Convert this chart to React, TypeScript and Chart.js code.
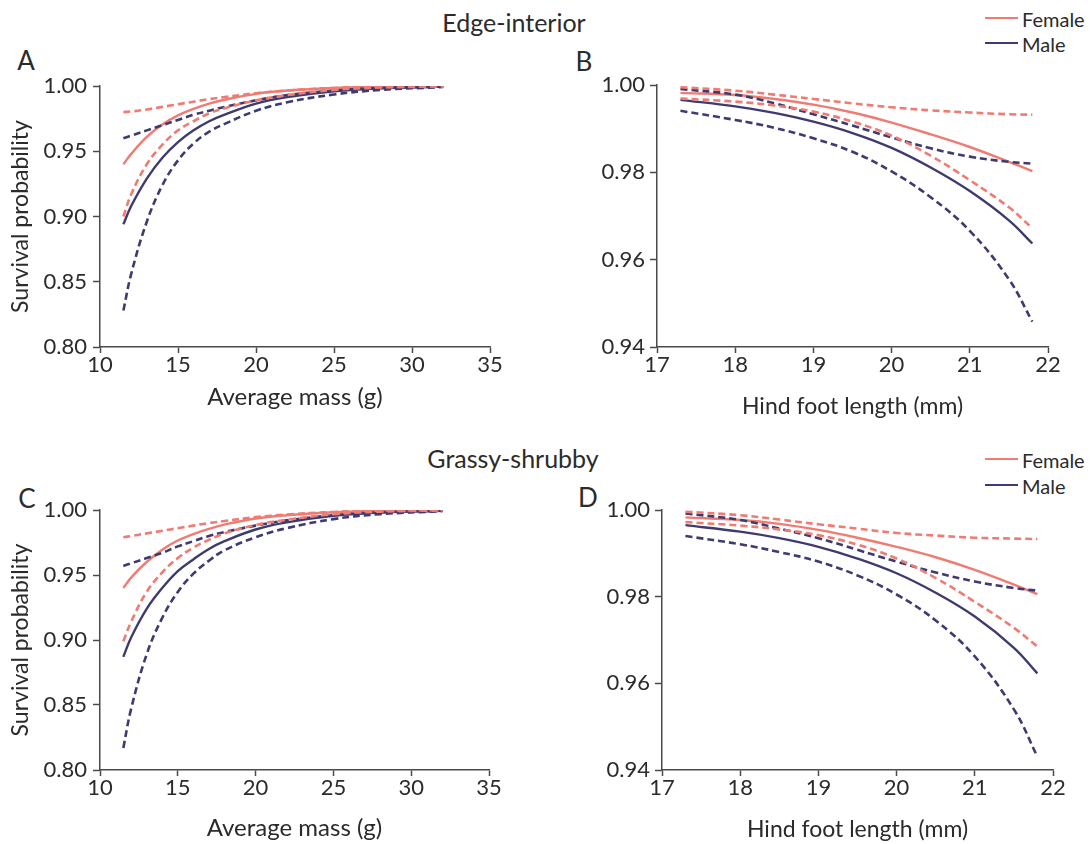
import React, { useEffect, useRef } from "react";
import { Chart, registerables } from "chart.js";
Chart.register(...registerables);

const FEMALE = "#EF7B73";
const MALE = "#3D3B6F";
const AXIS = "#4a4a4a";
const TEXT = "#2b2b2b";
const FONT = "Lato, 'Open Sans', sans-serif";

// Average mass (g) sample positions
const massX = [11.5, 12, 13, 14, 15, 16, 17, 18, 20, 22, 25, 28, 32];
// Hind foot length (mm) sample positions
const footX = [17.3, 18, 18.5, 19, 19.5, 20, 20.5, 21, 21.5, 21.8];

// Panel A: Edge-interior, average mass
const femaleFitA = [0.94, 0.948, 0.961, 0.9705, 0.9775, 0.9825, 0.9865, 0.9895, 0.994, 0.9965, 0.9985, 0.9994, 0.9998];
const femaleUpA = [0.98, 0.9805, 0.982, 0.984, 0.986, 0.988, 0.99, 0.9915, 0.9945, 0.9965, 0.9985, 0.9995, 0.9999];
const femaleLoA = [0.9, 0.917, 0.94, 0.955, 0.966, 0.973, 0.979, 0.983, 0.989, 0.993, 0.997, 0.9988, 0.9997];
const maleFitA = [0.894, 0.908, 0.929, 0.945, 0.957, 0.966, 0.973, 0.978, 0.9865, 0.9915, 0.996, 0.9982, 0.9995];
const maleUpA = [0.96, 0.962, 0.966, 0.97, 0.974, 0.978, 0.981, 0.984, 0.989, 0.993, 0.9965, 0.9985, 0.9996];
const maleLoA = [0.828, 0.856, 0.896, 0.924, 0.943, 0.956, 0.965, 0.971, 0.981, 0.9875, 0.9935, 0.997, 0.9992];

// Panel B: Edge-interior, hind foot length
const femaleFitB = [0.9982, 0.9977, 0.9968, 0.9955, 0.9937, 0.9914, 0.9887, 0.9858, 0.9824, 0.9803];
const femaleUpB = [0.9995, 0.9987, 0.9978, 0.9968, 0.9958, 0.9949, 0.9942, 0.9937, 0.9933, 0.9932];
const femaleLoB = [0.9969, 0.9962, 0.9953, 0.9939, 0.9916, 0.9884, 0.9838, 0.9782, 0.972, 0.9672];
const maleFitB = [0.9966, 0.9951, 0.9936, 0.9916, 0.989, 0.9856, 0.9811, 0.9757, 0.969, 0.9637];
const maleUpB = [0.9991, 0.9978, 0.9958, 0.9933, 0.9907, 0.988, 0.9855, 0.9836, 0.9824, 0.982];
const maleLoB = [0.9941, 0.992, 0.9902, 0.9878, 0.9847, 0.9802, 0.9743, 0.9666, 0.9555, 0.9458];

// Panel C: Grassy-shrubby, average mass
const femaleFitC = [0.94, 0.948, 0.96, 0.9695, 0.9765, 0.9815, 0.9855, 0.9888, 0.9935, 0.996, 0.9983, 0.9993, 0.9998];
const femaleUpC = [0.979, 0.98, 0.982, 0.984, 0.986, 0.988, 0.99, 0.9915, 0.9945, 0.9965, 0.9985, 0.9995, 0.9999];
const femaleLoC = [0.899, 0.914, 0.937, 0.952, 0.963, 0.971, 0.977, 0.982, 0.9885, 0.9925, 0.9968, 0.9987, 0.9997];
const maleFitC = [0.887, 0.902, 0.924, 0.94, 0.953, 0.962, 0.97, 0.976, 0.985, 0.9905, 0.9955, 0.998, 0.9994];
const maleUpC = [0.957, 0.959, 0.963, 0.967, 0.972, 0.976, 0.98, 0.983, 0.988, 0.992, 0.996, 0.9983, 0.9995];
const maleLoC = [0.817, 0.847, 0.889, 0.917, 0.937, 0.951, 0.961, 0.969, 0.979, 0.986, 0.993, 0.9968, 0.9991];

// Panel D: Grassy-shrubby, hind foot length
const femaleFitD = [0.9983, 0.9977, 0.9968, 0.9954, 0.9936, 0.9915, 0.9891, 0.9862, 0.9828, 0.9806];
const femaleUpD = [0.9996, 0.9988, 0.9978, 0.9967, 0.9957, 0.9947, 0.9941, 0.9936, 0.9934, 0.9933];
const femaleLoD = [0.9972, 0.9964, 0.9955, 0.9942, 0.992, 0.9888, 0.9843, 0.9788, 0.9728, 0.9685];
const maleFitD = [0.9965, 0.995, 0.9935, 0.9915, 0.9888, 0.9854, 0.9809, 0.9754, 0.9682, 0.9623];
const maleUpD = [0.9992, 0.9977, 0.9957, 0.9935, 0.9908, 0.9881, 0.9856, 0.9835, 0.982, 0.9814];
const maleLoD = [0.994, 0.9921, 0.9903, 0.9881, 0.9849, 0.9805, 0.9745, 0.9662, 0.954, 0.9431];

const massTicks = { min: 10, max: 35, step: 5 };
const massProbTicks = { min: 0.8, max: 1.0, step: 0.05 };
const footTicks = { min: 17, max: 22, step: 1 };
const footProbTicks = { min: 0.94, max: 1.0, step: 0.02 };

type PanelProps = {
  left: number; top: number; width: number; height: number;
  yW: number; padT: number; padR: number; xH: number; yTickPad: number;
  xTitleSize: number;
  xs: number[];
  fit: [number[], number[]]; up: [number[], number[]]; lo: [number[], number[]];
  xr: { min: number; max: number; step: number };
  yr: { min: number; max: number; step: number };
  xTitle: string; yTitle?: string;
};

function Panel(p: PanelProps) {
  const ref = useRef<HTMLCanvasElement>(null);
  useEffect(() => {
    const mk = (vals: number[], color: string, dashed: boolean) => ({
      data: p.xs.map((x, i) => ({ x, y: vals[i] })),
      borderColor: color,
      backgroundColor: color,
      borderWidth: dashed ? 2.6 : 2.4,
      borderDash: dashed ? [7, 4] : [],
      pointRadius: 0,
      tension: 0.4,
      fill: false,
    });
    const datasets = [
      mk(p.up[0], FEMALE, true),
      mk(p.lo[0], FEMALE, true),
      mk(p.up[1], MALE, true),
      mk(p.lo[1], MALE, true),
      mk(p.fit[0], FEMALE, false),
      mk(p.fit[1], MALE, false),
    ];
    const tickFont = { family: FONT, size: 22, lineHeight: 1 };
    const chart = new Chart(ref.current as HTMLCanvasElement, {
      type: "line",
      data: { datasets: datasets as any },
      options: {
        animation: false,
        responsive: false,
        maintainAspectRatio: false,
        layout: { padding: { left: 0, right: p.padR, top: p.padT, bottom: 0 } },
        plugins: { legend: { display: false }, tooltip: { enabled: false } },
        scales: {
          x: {
            type: "linear",
            min: p.xr.min,
            max: p.xr.max,
            ticks: {
              stepSize: p.xr.step,
              autoSkip: false,
              maxRotation: 0,
              padding: 1,
              color: TEXT,
              font: tickFont,
            },
            grid: { drawOnChartArea: false, drawTicks: true, tickLength: 6, tickColor: AXIS, tickWidth: 1.5 },
            border: { display: true, color: AXIS, width: 1.5 },
            title: {
              display: true,
              text: p.xTitle,
              color: TEXT,
              font: { family: FONT, size: p.xTitleSize, lineHeight: 1.2 },
              padding: { top: 0, bottom: 0 },
            },
            afterFit: (s: any) => { s.height = p.xH; },
          },
          y: {
            type: "linear",
            min: p.yr.min,
            max: p.yr.max,
            ticks: {
              stepSize: p.yr.step,
              autoSkip: false,
              padding: p.yTickPad,
              color: TEXT,
              font: tickFont,
              callback: (v: any) => Number(v).toFixed(2),
            },
            grid: { drawOnChartArea: false, drawTicks: true, tickLength: 7, tickColor: AXIS, tickWidth: 1.5 },
            border: { display: true, color: AXIS, width: 1.5 },
            title: {
              display: !!p.yTitle,
              text: p.yTitle || "",
              color: TEXT,
              font: { family: FONT, size: 23, lineHeight: 1.2 },
              padding: { top: 7, bottom: 0 },
            },
            afterFit: (s: any) => { s.width = p.yW; },
          },
        },
      } as any,
    });
    return () => chart.destroy();
  }, []);
  return (
    <canvas
      ref={ref}
      width={p.width}
      height={p.height}
      style={{ position: "absolute", left: p.left, top: p.top, width: p.width, height: p.height }}
    />
  );
}

function CText(props: { x: number; y: number; size: number; text: string; align?: "center" | "left" }) {
  const { x, y, size, text, align = "center" } = props;
  return (
    <div
      style={{
        position: "absolute",
        left: x,
        top: y,
        transform: align === "center" ? "translate(-50%, -50%)" : "translate(0, -50%)",
        fontFamily: FONT,
        fontSize: size,
        lineHeight: 1,
        color: TEXT,
        whiteSpace: "nowrap",
      }}
    >
      {text}
    </div>
  );
}

function Legend(props: { top: number }) {
  const t = props.top;
  const line = (y: number, c: string) => (
    <div style={{ position: "absolute", left: 985, top: y - 1, width: 33, height: 2, background: c }} />
  );
  return (
    <>
      {line(t, FEMALE)}
      <CText x={1022} y={t + 1} size={20} text="Female" align="left" />
      {line(t + 25.5, MALE)}
      <CText x={1022} y={t + 26.5} size={20} text="Male" align="left" />
    </>
  );
}

export default function App() {
  return (
    <div
      style={{
        position: "absolute",
        left: 0,
        top: 0,
        width: 1092,
        height: 844,
        overflow: "hidden",
        background: "#fff",
      }}
    >
      <CText x={514} y={22} size={25} text="Edge-interior" />
      <CText x={513} y={458} size={25} text="Grassy-shrubby" />
      <Legend top={17.5} />
      <Legend top={459} />
      <CText x={26} y={60} size={26} text="A" />
      <CText x={584} y={61} size={26} text="B" />
      <CText x={27} y={498} size={26} text="C" />
      <CText x={588} y={497} size={26} text="D" />

      <Panel
        left={0} top={60} width={520} height={352}
        yW={100} padT={26} padR={30} xH={65} yTickPad={6} xTitleSize={24}
        xs={massX}
        fit={[femaleFitA, maleFitA]} up={[femaleUpA, maleUpA]} lo={[femaleLoA, maleLoA]}
        xr={massTicks} yr={massProbTicks}
        xTitle="Average mass (g)" yTitle="Survival probability"
      />
      <Panel
        left={560} top={60} width={532} height={360}
        yW={97} padT={25} padR={44} xH={73} yTickPad={5} xTitleSize={23}
        xs={footX}
        fit={[femaleFitB, maleFitB]} up={[femaleUpB, maleUpB]} lo={[femaleLoB, maleLoB]}
        xr={footTicks} yr={footProbTicks}
        xTitle="Hind foot length (mm)"
      />
      <Panel
        left={0} top={490} width={520} height={353}
        yW={100} padT={20} padR={31} xH={73} yTickPad={6} xTitleSize={24}
        xs={massX}
        fit={[femaleFitC, maleFitC]} up={[femaleUpC, maleUpC]} lo={[femaleLoC, maleLoC]}
        xr={massTicks} yr={massProbTicks}
        xTitle="Average mass (g)" yTitle="Survival probability"
      />
      <Panel
        left={560} top={490} width={532} height={353}
        yW={102} padT={20} padR={39} xH={73} yTickPad={5} xTitleSize={23}
        xs={footX}
        fit={[femaleFitD, maleFitD]} up={[femaleUpD, maleUpD]} lo={[femaleLoD, maleLoD]}
        xr={footTicks} yr={footProbTicks}
        xTitle="Hind foot length (mm)"
      />
    </div>
  );
}
